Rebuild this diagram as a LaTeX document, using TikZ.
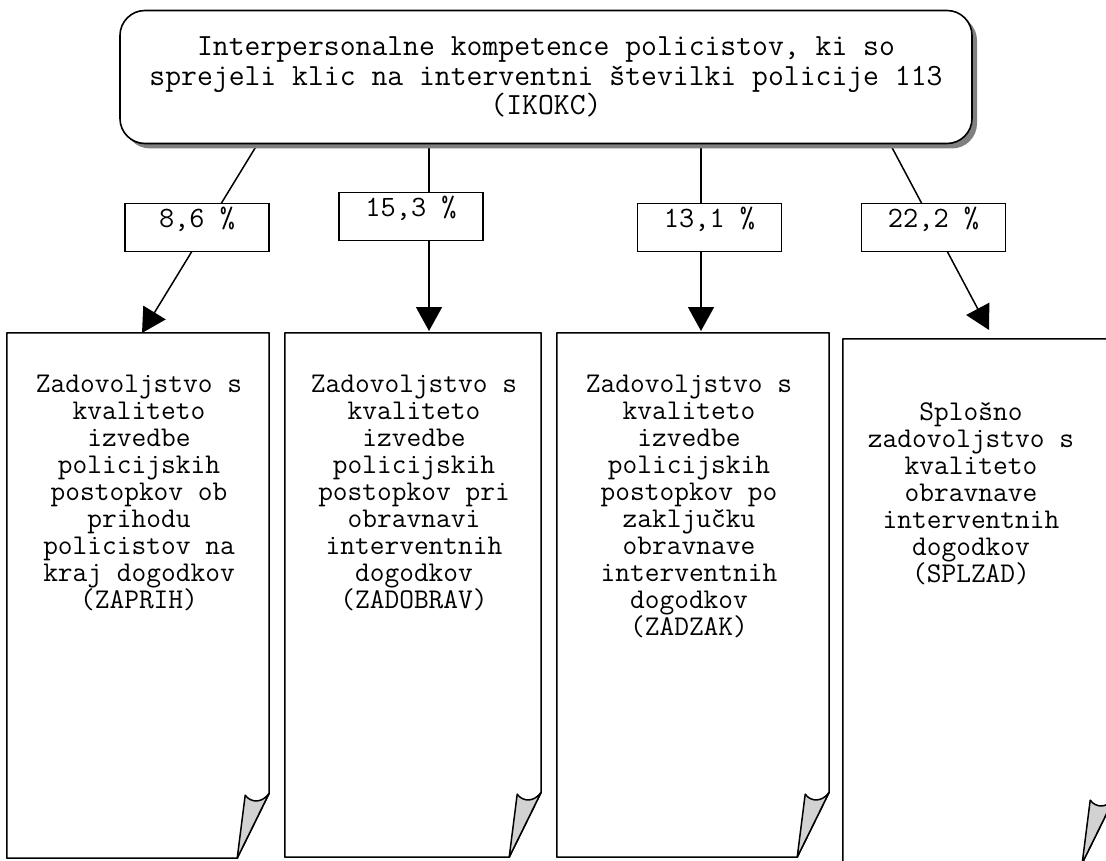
\documentclass[tikz,border=0pt]{standalone}
\usepackage{fontspec}
\usetikzlibrary{arrows.meta,shadows,calc}
\newcommand\docfold[1]{%
  \draw[docline] (#1.north west) -- (#1.north east) -- ([yshift=65pt]#1.south east)
     -- ([xshift=-32pt]#1.south east) -- (#1.south west) -- cycle;
  \draw[docline,fill=gray!35] ([yshift=65pt]#1.south east)
     .. controls ([xshift=-7pt,yshift=55pt]#1.south east) and ([xshift=-18pt,yshift=55pt]#1.south east)
     .. ([xshift=-24pt,yshift=63pt]#1.south east) -- ([xshift=-32pt]#1.south east) -- cycle;
}
\begin{document}
\begin{tikzpicture}[x=1pt,y=-1pt,
  docline/.style={line width=1.5pt,line join=round,fill=white},
  docarea/.style={draw=none,inner sep=0pt},
  doctext/.style={inner sep=0pt,align=center,anchor=north,font=\ttfamily\fontsize{28.6}{27}\selectfont},
  topbox/.style={draw,line width=1.6pt,rounded corners=25pt,fill=white,minimum width=852pt,
     minimum height=133pt,align=center,font=\ttfamily\fontsize{30.8}{29.5}\selectfont,
     drop shadow={shadow xshift=5pt,shadow yshift=-5pt,fill=gray,opacity=1}},
  pctbox/.style={draw,line width=1.5pt,fill=white,minimum width=144pt,inner sep=0pt,
     text height=24pt,text depth=24pt,font=\ttfamily\fontsize{29.5}{30}\selectfont},
  conn/.style={line width=1.5pt,-{Triangle[length=24pt,width=26pt]}}]
\path[use as bounding box] (0,0) rectangle (1106,861);
\clip (0,0) rectangle (1106,861);

% document boxes
\node[docarea,minimum width=262pt,minimum height=525pt] (d1) at (138,595.5) {};
\node[docarea,minimum width=256pt,minimum height=524pt] (d2) at (413,595) {};
\node[docarea,minimum width=272pt,minimum height=524pt] (d3) at (693,595) {};
\node[docarea,minimum width=271pt,minimum height=524pt] (d4) at (978.5,601) {};
\docfold{d1}
\docfold{d2}
\docfold{d3}
\docfold{d4}

\node[doctext] (t1) at (139,375) {Zadovoljstvo s\\kvaliteto\\izvedbe\\policijskih\\postopkov ob\\prihodu\\policistov na\\kraj dogodkov\\(ZAPRIH)};
\node[doctext] (t2) at (414,375) {Zadovoljstvo s\\kvaliteto\\izvedbe\\policijskih\\postopkov pri\\obravnavi\\interventnih\\dogodkov\\(ZADOBRAV)};
\node[doctext] (t3) at (689,375) {Zadovoljstvo s\\kvaliteto\\izvedbe\\policijskih\\postopkov po\\zaključku\\obravnave\\interventnih\\dogodkov\\(ZADZAK)};
\node[doctext] (t4) at (971,402) {Splošno\\zadovoljstvo s\\kvaliteto\\obravnave\\interventnih\\dogodkov\\(SPLZAD)};

% connectors
\coordinate (s1) at (260,140);
\coordinate (s2) at (429,140);
\coordinate (s3) at (701,140);
\coordinate (s4) at (888,140);
\coordinate (e1) at (142,333);
\coordinate (e2) at (429,331);
\coordinate (e3) at (701,331);
\coordinate (e4) at (989,330);
\draw[conn] (s1) -- (e1);
\draw[conn] (s2) -- (e2);
\draw[conn] (s3) -- (e3);
\draw[conn] (s4) -- (e4);

% top box
\node[topbox] (top) at (546,77) {Interpersonalne kompetence policistov, ki so\\sprejeli klic na interventni številki policije 113\\(IKOKC)};

% percentage labels
\node[pctbox] (l1) at (197,203) [anchor=north] {8,6 \%};
\node[pctbox] (l2) at (411,192) [anchor=north] {15,3 \%};
\node[pctbox] (l3) at (709.5,203) [anchor=north] {13,1 \%};
\node[pctbox] (l4) at (933.5,203) [anchor=north] {22,2 \%};
\end{tikzpicture}
\end{document}
